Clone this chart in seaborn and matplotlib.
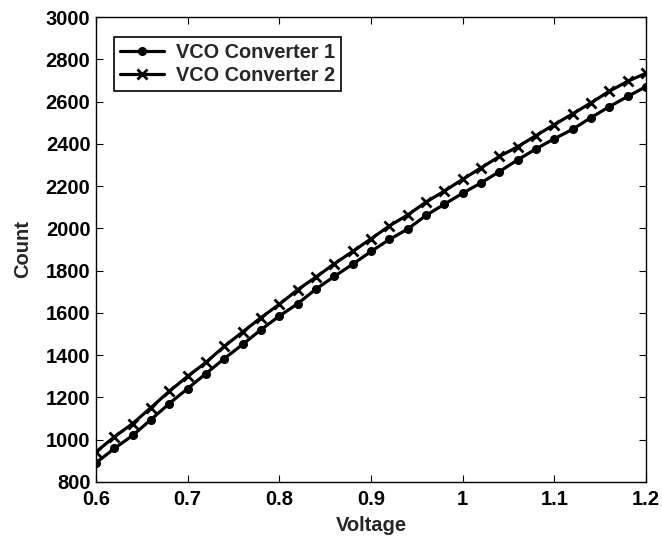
import matplotlib
matplotlib.use("Agg")
import matplotlib.pyplot as plt
import seaborn as sns
import pandas as pd

voltage = [0.60, 0.62, 0.64, 0.66, 0.68, 0.70, 0.72, 0.74, 0.76, 0.78, 0.80,
           0.82, 0.84, 0.86, 0.88, 0.90, 0.92, 0.94, 0.96, 0.98, 1.00,
           1.02, 1.04, 1.06, 1.08, 1.10, 1.12, 1.14, 1.16, 1.18, 1.20]
converter1 = [890, 958, 1020, 1095, 1171, 1242, 1313, 1384, 1451, 1521, 1585,
              1644, 1713, 1773, 1831, 1891, 1948, 1997, 2062, 2115, 2167,
              2216, 2269, 2325, 2377, 2425, 2470, 2525, 2577, 2625, 2672]
converter2 = [942, 1013, 1076, 1152, 1229, 1300, 1366, 1442, 1510, 1578, 1641,
              1710, 1770, 1833, 1891, 1951, 2012, 2064, 2125, 2177, 2233,
              2287, 2341, 2387, 2440, 2492, 2543, 2595, 2650, 2697, 2735]
series_names = ["VCO Converter 1", "VCO Converter 2"]
x_ticks = [0.6, 0.7, 0.8, 0.9, 1.0, 1.1, 1.2]
x_tick_labels = ["0.6", "0.7", "0.8", "0.9", "1", "1.1", "1.2"]
y_ticks = [800, 1000, 1200, 1400, 1600, 1800, 2000, 2200, 2400, 2600, 2800, 3000]

sns.set_theme(style="ticks", rc={
    "xtick.direction": "in", "ytick.direction": "in",
    "xtick.top": True, "ytick.right": True,
    "axes.linewidth": 1.0, "xtick.major.size": 5, "ytick.major.size": 5,
    "xtick.major.width": 0.8, "ytick.major.width": 0.8,
})
plt.rcParams["font.family"] = ["Liberation Sans", "DejaVu Sans"]
plt.rcParams["font.weight"] = "bold"

df = pd.DataFrame({
    "Voltage": voltage * 2,
    "Count": converter1 + converter2,
    "Series": [series_names[0]] * len(voltage) + [series_names[1]] * len(voltage),
})

fig = plt.figure(figsize=(6.62, 5.39), dpi=100)
ax = fig.add_axes([0.145, 0.106, 0.831, 0.862])

styles = {series_names[0]: dict(marker="o", markersize=5.5, markeredgewidth=1.0),
          series_names[1]: dict(marker="x", markersize=7.5, markeredgewidth=2.0)}
for name in series_names:
    sub = df[df["Series"] == name]
    sns.lineplot(data=sub, x="Voltage", y="Count", ax=ax, color="black",
                 linewidth=2.3, label=name, markeredgecolor="black",
                 **styles[name])

ax.set_xlim(0.6, 1.2)
ax.set_ylim(800, 3000)
ax.set_xticks(x_ticks)
ax.set_xticklabels(x_tick_labels)
ax.set_yticks(y_ticks)
ax.tick_params(axis="both", labelsize=14.5, colors="black")
ax.tick_params(axis="x", pad=6)
ax.tick_params(axis="y", pad=4)
for lab in ax.get_xticklabels() + ax.get_yticklabels():
    lab.set_fontweight("bold")
ax.set_xlabel("Voltage", fontsize=14.5, fontweight="bold", labelpad=5)
ax.set_ylabel("Count", fontsize=14.5, fontweight="bold", labelpad=10)
for sp in ax.spines.values():
    sp.set_color("black")

leg = ax.legend(loc="upper left", bbox_to_anchor=(0.033, 0.958), borderaxespad=0,
                fancybox=False, edgecolor="black", framealpha=1,
                prop={"weight": "bold", "size": 14.3}, handlelength=2.2,
                handletextpad=0.6, borderpad=0.3, labelspacing=0.2)
leg.get_frame().set_linewidth(1.2)

fig.savefig("out.png", dpi=100)
